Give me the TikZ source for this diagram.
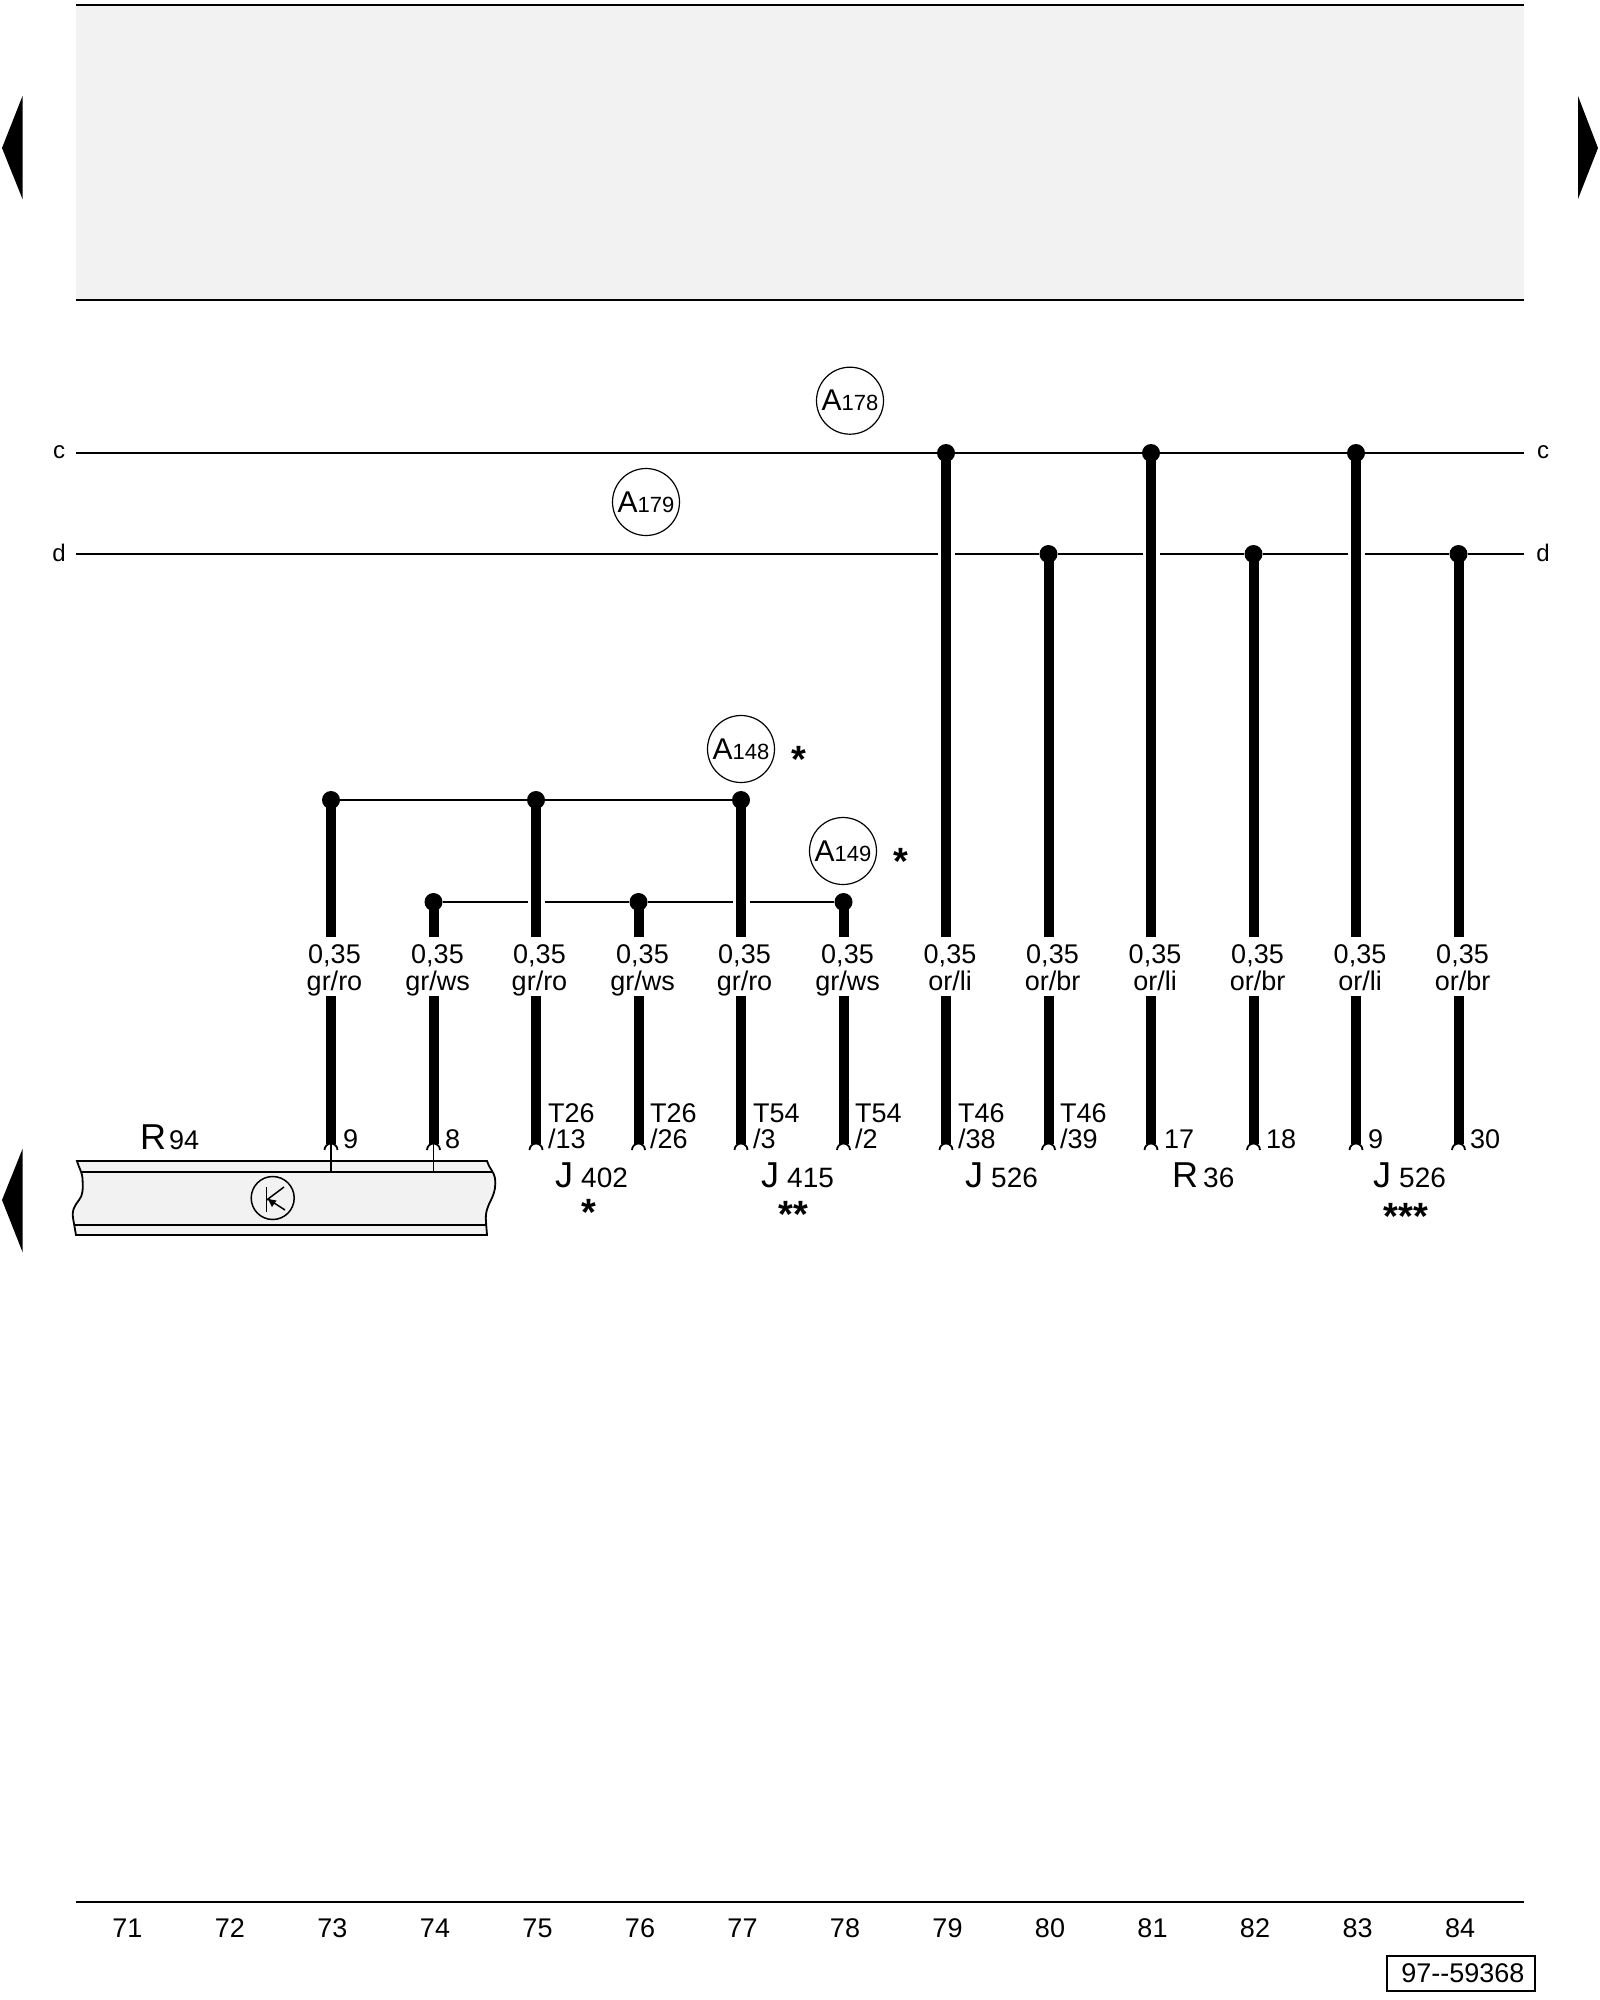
\documentclass[tikz,border=0pt]{standalone}
\usepackage{fontspec}
\setmainfont{Liberation Sans}
\definecolor{bandgray}{HTML}{F2F2F2}
\newcommand{\txtsize}[1]{\fontsize{#1}{#1}\selectfont}
\newcommand{\partlab}[3]{\txtsize{36}#2\kern#1pt\txtsize{28}#3}
\tikzset{
  bus/.style={line width=2pt},
  wire/.style={line width=10pt},
  topwire/.style={line width=10pt,shorten <=-6pt},
  halo/.style={draw=white,line width=17pt},
  dot/.style={circle,fill=black,inner sep=0pt,minimum size=18pt},
  splice/.style={circle,draw=black,line width=1.2pt,fill=white,inner sep=0pt,minimum size=67pt,font=\txtsize{30}},
  wirelab/.style={inner sep=0pt,align=center,font=\txtsize{27}},
  pinlab/.style={inner sep=0pt,anchor=base west,font=\txtsize{27}},
  partlab/.style={inner sep=0pt,anchor=base west},
  starlab/.style={inner sep=0pt,anchor=base,font=\bfseries\txtsize{38}},
  pathlab/.style={inner sep=0pt,font=\txtsize{27}},
  railab/.style={inner sep=0pt,anchor=base,font=\txtsize{24}},
  pinhook/.pic={\draw[fill=white,line width=1.8pt] (-6.5,6) arc[start angle=180,end angle=360,radius=6.5];}
}
\begin{document}
\begin{tikzpicture}[x=1pt,y=-1pt]
    \useasboundingbox (0,0) rectangle (1600,2000);

    \fill[bandgray] (76,4.5) rectangle (1524,300);
    \draw[bus] (76,4.5) -- (1524,4.5);
    \draw[bus] (76,300) -- (1524,300);
    \draw[bus] (76,1902) -- (1524,1902);

    \fill (22.5,96) -- (2,148) -- (22.5,199) -- cycle;
    \fill (1578,96) -- (1598,148) -- (1578,199) -- cycle;
    \fill (22.5,1149) -- (2,1200) -- (22.5,1252) -- cycle;

    % relay strip
    \draw[fill=bandgray,line width=1.8pt] (77,1161) .. controls (79,1168) and (82,1172) .. (82.5,1178)
          .. controls (83,1190) and (83,1195) .. (79,1200)
          .. controls (73,1208) and (72,1212) .. (73,1218) -- (76,1235) -- (487,1235) -- (486,1222)
          .. controls (485,1212) and (488,1206) .. (491,1200)
          .. controls (495,1192) and (496,1185) .. (495,1178)
          .. controls (494,1172) and (489,1168) .. (487,1161) -- cycle;
    \draw[line width=1.8pt] (80.5,1172) -- (491.5,1172);
    \draw[line width=1.8pt] (74,1225) -- (486,1225);

    \node[circle,draw=black,line width=1.5pt,inner sep=0pt,minimum size=43pt] (k) at (272.7,1198) {};
    \coordinate (kbt) at (266.7,1187);
    \coordinate (kbb) at (266.7,1212);
    \coordinate (kc) at (284,1187);
    \coordinate (kcb) at (266.7,1200);
    \coordinate (ke) at (285,1210);
    \coordinate (ka) at (268,1199);
    \draw[line width=1.5pt] (kbt) -- (kbb);
    \draw[line width=1.5pt] (kcb) -- (kc);
    \draw[line width=1.5pt] (ke) -- (ka);
    \fill (ka) -- (276.5,1200.5) -- (272,1207) -- cycle;

    \coordinate (cl) at (76,453);
    \coordinate (cr) at (1524,453);
    \coordinate (dl) at (76,554);
    \coordinate (dr) at (1524,554);

    \node[dot] (w73) at (331,800) {};
    \node[dot] (w74) at (433.5,902) {};
    \node[dot] (w75) at (536,800) {};
    \node[dot] (w76) at (638.5,902) {};
    \node[dot] (w77) at (741,800) {};
    \node[dot] (w78) at (843.5,902) {};
    \node[dot] (w79) at (946,453) {};
    \node[dot] (w80) at (1048.5,554) {};
    \node[dot] (w81) at (1151,453) {};
    \node[dot] (w82) at (1253.5,554) {};
    \node[dot] (w83) at (1356,453) {};
    \node[dot] (w84) at (1458.5,554) {};

    \draw[bus] (cl) -- (w79) -- (w81) -- (w83) -- (cr);
    \draw[bus] (dl) -- (w80) -- (w82) -- (w84) -- (dr);
    \draw[bus] (w73) -- (w75) -- (w77);
    \draw[bus] (w74) -- (w76) -- (w78);

    \coordinate (a73) at (331,937);
    \coordinate (a74) at (433.5,937);
    \coordinate (a75) at (536,937);
    \coordinate (a76) at (638.5,937);
    \coordinate (a77) at (741,937);
    \coordinate (a78) at (843.5,937);
    \coordinate (a79) at (946,937);
    \coordinate (a80) at (1048.5,937);
    \coordinate (a81) at (1151,937);
    \coordinate (a82) at (1253.5,937);
    \coordinate (a83) at (1356,937);
    \coordinate (a84) at (1458.5,937);

    \coordinate (b73) at (331,996);
    \coordinate (b74) at (433.5,996);
    \coordinate (b75) at (536,996);
    \coordinate (b76) at (638.5,996);
    \coordinate (b77) at (741,996);
    \coordinate (b78) at (843.5,996);
    \coordinate (b79) at (946,996);
    \coordinate (b80) at (1048.5,996);
    \coordinate (b81) at (1151,996);
    \coordinate (b82) at (1253.5,996);
    \coordinate (b83) at (1356,996);
    \coordinate (b84) at (1458.5,996);

    \coordinate (p73) at (331,1144);
    \coordinate (p74) at (433.5,1144);
    \coordinate (p75) at (536,1144);
    \coordinate (p76) at (638.5,1144);
    \coordinate (p77) at (741,1144);
    \coordinate (p78) at (843.5,1144);
    \coordinate (p79) at (946,1144);
    \coordinate (p80) at (1048.5,1144);
    \coordinate (p81) at (1151,1144);
    \coordinate (p82) at (1253.5,1144);
    \coordinate (p83) at (1356,1144);
    \coordinate (p84) at (1458.5,1144);

    % gaps in the thin lines
    \draw[halo] (w75) -- (a75);
    \draw[halo] (w77) -- (a77);
    \draw[halo] (w79) -- (a79);
    \draw[halo] (w81) -- (a81);
    \draw[halo] (w83) -- (a83);

    \draw[topwire] (w73) -- (a73);
    \draw[topwire] (w74) -- (a74);
    \draw[topwire] (w75) -- (a75);
    \draw[topwire] (w76) -- (a76);
    \draw[topwire] (w77) -- (a77);
    \draw[topwire] (w78) -- (a78);
    \draw[topwire] (w79) -- (a79);
    \draw[topwire] (w80) -- (a80);
    \draw[topwire] (w81) -- (a81);
    \draw[topwire] (w82) -- (a82);
    \draw[topwire] (w83) -- (a83);
    \draw[topwire] (w84) -- (a84);

    \draw[wire] (b73) -- (p73);
    \draw[wire] (b74) -- (p74);
    \draw[wire] (b75) -- (p75);
    \draw[wire] (b76) -- (p76);
    \draw[wire] (b77) -- (p77);
    \draw[wire] (b78) -- (p78);
    \draw[wire] (b79) -- (p79);
    \draw[wire] (b80) -- (p80);
    \draw[wire] (b81) -- (p81);
    \draw[wire] (b82) -- (p82);
    \draw[wire] (b83) -- (p83);
    \draw[wire] (b84) -- (p84);

    \pic at (p73) {pinhook};
    \pic at (p74) {pinhook};
    \pic at (p75) {pinhook};
    \pic at (p76) {pinhook};
    \pic at (p77) {pinhook};
    \pic at (p78) {pinhook};
    \pic at (p79) {pinhook};
    \pic at (p80) {pinhook};
    \pic at (p81) {pinhook};
    \pic at (p82) {pinhook};
    \pic at (p83) {pinhook};
    \pic at (p84) {pinhook};

    \coordinate (r73) at (331,1172);
    \coordinate (r74) at (433.5,1172);
    \draw[line width=1.5pt] (p73) -- (r73);
    \draw[line width=1.5pt] (p74) -- (r74);

    \node[wirelab] (l73) at (334.5,970.5) {0,35\\gr/ro};
    \node[wirelab] (l74) at (437.5,970.5) {0,35\\gr/ws};
    \node[wirelab] (l75) at (539.5,970.5) {0,35\\gr/ro};
    \node[wirelab] (l76) at (642.5,970.5) {0,35\\gr/ws};
    \node[wirelab] (l77) at (744.5,970.5) {0,35\\gr/ro};
    \node[wirelab] (l78) at (847.5,970.5) {0,35\\gr/ws};
    \node[wirelab] (l79) at (950,968) {0,35\\or/li};
    \node[wirelab] (l80) at (1052.5,968) {0,35\\or/br};
    \node[wirelab] (l81) at (1155,968) {0,35\\or/li};
    \node[wirelab] (l82) at (1257.5,968) {0,35\\or/br};
    \node[wirelab] (l83) at (1360,968) {0,35\\or/li};
    \node[wirelab] (l84) at (1462.5,968) {0,35\\or/br};

    \node[pinlab] (t73) at (343,1148) {9};
    \node[pinlab] (t74) at (445,1148) {8};
    \node[pinlab] (u75) at (548,1122) {T26};
    \node[pinlab] (t75) at (548,1148) {/13};
    \node[pinlab] (u76) at (650,1122) {T26};
    \node[pinlab] (t76) at (650,1148) {/26};
    \node[pinlab] (u77) at (753,1122) {T54};
    \node[pinlab] (t77) at (753,1148) {/3};
    \node[pinlab] (u78) at (855,1122) {T54};
    \node[pinlab] (t78) at (855,1148) {/2};
    \node[pinlab] (u79) at (958,1122) {T46};
    \node[pinlab] (t79) at (958,1148) {/38};
    \node[pinlab] (u80) at (1060,1122) {T46};
    \node[pinlab] (t80) at (1060,1148) {/39};
    \node[pinlab] (t81) at (1164,1148) {17};
    \node[pinlab] (t82) at (1266,1148) {18};
    \node[pinlab] (t83) at (1368,1148) {9};
    \node[pinlab] (t84) at (1470,1148) {30};

    \node[partlab] (r94) at (140,1149) {\partlab{3}{R}{\txtsize{27}94}};
    \node[partlab] (j402) at (555,1187) {\partlab{8}{J}{402}};
    \node[partlab] (j415) at (761,1187) {\partlab{8}{J}{415}};
    \node[partlab] (j526a) at (965,1187) {\partlab{8}{J}{526}};
    \node[partlab] (r36) at (1172,1187) {\partlab{5}{R}{36}};
    \node[partlab] (j526b) at (1373,1187) {\partlab{8}{J}{526}};

    \node[starlab] (s402) at (589,1225) {*};
    \node[starlab] (s415) at (793,1227) {**};
    \node[starlab] (s526) at (1406,1229) {***};
    \node[starlab] (s148) at (799,772.5) {*};
    \node[starlab] (s149) at (901,874.5) {*};

    \node[splice] (a178) at (850,400.7) {A{\txtsize{22}178}};
    \node[splice] (a179) at (646,502) {A{\txtsize{22}179}};
    \node[splice] (a148) at (741,749) {A{\txtsize{22}148}};
    \node[splice] (a149) at (843,851) {A{\txtsize{22}149}};

    \node[railab] (cleft) at (59,458) {c};
    \node[railab] (cright) at (1543,458) {c};
    \node[railab] (dleft) at (59,561) {d};
    \node[railab] (dright) at (1543,561) {d};

    \node[pathlab] (n71) at (127.5,1928) {71};
    \node[pathlab] (n72) at (230,1928) {72};
    \node[pathlab] (n73) at (332.5,1928) {73};
    \node[pathlab] (n74) at (435,1928) {74};
    \node[pathlab] (n75) at (537.5,1928) {75};
    \node[pathlab] (n76) at (640,1928) {76};
    \node[pathlab] (n77) at (742.5,1928) {77};
    \node[pathlab] (n78) at (845,1928) {78};
    \node[pathlab] (n79) at (947.5,1928) {79};
    \node[pathlab] (n80) at (1050,1928) {80};
    \node[pathlab] (n81) at (1152.5,1928) {81};
    \node[pathlab] (n82) at (1255,1928) {82};
    \node[pathlab] (n83) at (1357.5,1928) {83};
    \node[pathlab] (n84) at (1460,1928) {84};

    \node[draw=black,line width=2pt,font=\txtsize{27},inner sep=0pt,minimum width=148pt,minimum height=35pt] (refno) at (1461.3,1973.5) {\kern3pt 97{-}{-}59368};
  \end{tikzpicture}
\end{document}
